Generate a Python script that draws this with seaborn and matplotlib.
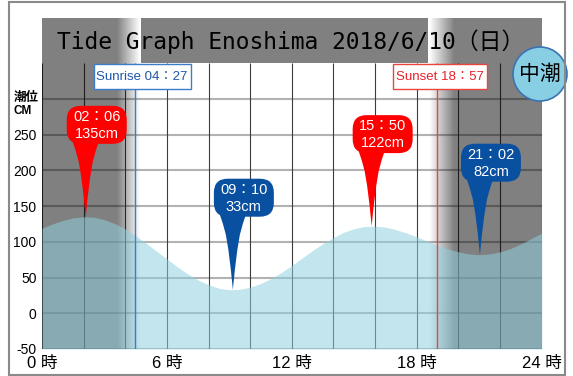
import numpy as np
import matplotlib
matplotlib.use("Agg")
import matplotlib.pyplot as plt
import matplotlib.patches as mpatches
import matplotlib.transforms as mtransforms
import seaborn as sns

# tide level (cm) read every half hour
hours = [0, 0.5, 1, 1.5, 2, 2.5, 3, 3.5, 4, 4.5, 5, 5.5, 6, 6.5, 7, 7.5, 8, 8.5,
         9, 9.5, 10, 10.5, 11, 11.5, 12, 12.5, 13, 13.5, 14, 14.5, 15, 15.5, 16,
         16.5, 17, 17.5, 18, 18.5, 19, 19.5, 20, 20.5, 21, 21.5, 22, 22.5, 23,
         23.5, 24]
level = [119, 125, 130, 133.5, 135, 134.5, 131, 125.5, 118, 108.5, 98, 87, 76,
         65, 55, 46.5, 40, 35, 33, 33.5, 36.5, 41.5, 48.5, 57, 67, 77.5, 88,
         97.5, 106, 113.5, 118.5, 121.5, 122, 120.5, 117, 112.5, 107, 101, 95.5,
         90, 86, 83, 82, 83, 86, 90.5, 97, 104.5, 112]

# high / low tides
tide_times = [2.1, 9.1667, 15.8333, 21.0333]
tide_levels = [135, 33, 122, 82]
tide_labels = ["02：06", "09：10", "15：50", "21：02"]
tide_kind = ["high", "low", "high", "low"]

sunrise = 4.45
sunset = 18.95
sunrise_label = "Sunrise 04：27"
sunset_label = "Sunset 18：57"
tide_name = "中潮"
title = "Tide Graph Enoshima 2018/6/10（日）"

y_ticks = [-50, 0, 50, 100, 150, 200, 250]
x_ticks = [0, 6, 12, 18, 24]
x_labels = ["0 時", "6 時", "12 時", "18 時", "24 時"]

sns.set_theme(style="white")
plt.rcParams['font.family'] = ['Liberation Sans', 'Noto Sans CJK JP', 'DejaVu Sans']
plt.rcParams['text.color'] = 'black'
plt.rcParams['xtick.color'] = 'black'
plt.rcParams['ytick.color'] = 'black'

W, H = 573, 376
fig = plt.figure(figsize=(W / 100, H / 100), dpi=100)
px = mtransforms.Affine2D().scale(0.01) + fig.dpi_scale_trans
ax = fig.add_axes([42 / W, 27 / H, 499.7 / W, 331.5 / H])

water = '#90d1e0'
grid_top = 350
ymax = 414

# grid
ax.hlines(range(-50, 301, 50), 0, 24, color='#b2b2b2', lw=1.5, zorder=1)
ax.vlines(range(0, 25, 2), -50, grid_top, color='#3c3c3c', lw=0.8, zorder=1)

# night shading with soft edges
xs = np.linspace(0, 24, 961)
alpha = np.interp(xs, [0, sunrise - 0.85, sunrise + 0.25, sunset - 0.35, sunset + 0.85, 24],
                  [0.5, 0.5, 0, 0, 0.5, 0.5])
img = np.zeros((1, len(xs), 4))
img[..., 3] = alpha
ax.imshow(img, extent=(0, 24, -50, ymax), aspect='auto', interpolation='bilinear', zorder=2)

# header band
ax.add_patch(mpatches.Rectangle((sunrise + 0.3, grid_top), (sunset - 0.4) - (sunrise + 0.3),
                                ymax - grid_top, color='#808080', lw=0, zorder=2.5))

# water
sns.lineplot(x=hours, y=level, ax=ax, color=water, lw=0, zorder=3)
ax.fill_between(hours, -50, level, color=water, alpha=0.54, lw=0, zorder=3)

# sunrise / sunset lines and labels
for t, lab, lc, tc, x0, w in [(sunrise, sunrise_label, '#3d7cc9', '#1f56a8', -41, 97),
                              (sunset, sunset_label, '#e8463c', '#e8202a', -44, 94)]:
    ax.vlines(t, -50, grid_top, color=lc, lw=1, zorder=4)
    tr = px + mtransforms.ScaledTranslation(t, grid_top, ax.transData)
    ax.add_patch(mpatches.Rectangle((x0, -26), w, 25, transform=tr, fc='white', ec=lc,
                                    lw=1, zorder=5))
    ax.text(x0 + w / 2, -13.5, lab, transform=tr, ha='center', va='center', color=tc,
            fontsize=9.5, zorder=6)

# tide pins
tail = [(0, 0), (-2, 20), (-4.5, 40), (-7, 55), (-10, 66), (-14, 78),
        (14, 78), (10, 66), (7, 55), (4.5, 40), (2, 20)]
for t, v, lab, kind in zip(tide_times, tide_levels, tide_labels, tide_kind):
    c = '#ff0000' if kind == 'high' else '#0a50a0'
    tr = px + mtransforms.ScaledTranslation(t, v, ax.transData)
    ax.add_patch(mpatches.Polygon(tail, closed=True, transform=tr, fc=c, ec='none', zorder=6))
    ax.add_patch(mpatches.FancyBboxPatch((-19, 73), 60, 38,
                                         boxstyle='round,pad=0,rounding_size=14',
                                         transform=tr, fc=c, ec='none', zorder=6))
    ax.text(11, 100, lab, transform=tr, ha='center', va='center', color='white',
            fontsize=10.5, zorder=7)
    ax.text(11, 83, f"{v}cm", transform=tr, ha='center', va='center', color='white',
            fontsize=10.5, zorder=7)

ax.set_xlim(0, 24)
ax.set_ylim(-50, ymax)
ax.set_yticks(y_ticks)
ax.set_yticklabels([str(y) for y in y_ticks], fontsize=10)
ax.set_xticks(x_ticks)
ax.set_xticklabels(x_labels, fontsize=12)
ax.tick_params(axis='y', length=0, pad=4)
ax.tick_params(axis='x', length=0, pad=5)
for s in ax.spines.values():
    s.set_visible(False)
ax.grid(False)

# title and decorations
fig.text(291, H - 42, title, transform=px, ha='center', va='center', fontsize=16.5,
         family=['DejaVu Sans Mono', 'Noto Sans CJK JP'], color='black', zorder=8)
fig.text(14, H - 97, "潮位", transform=px, ha='left', va='center', fontsize=9,
         family=['Noto Sans CJK JP'], weight='bold')
fig.text(14, H - 111, "CM", transform=px, ha='left', va='center', fontsize=8.5,
         weight='bold')
fig.add_artist(mpatches.Circle((540, H - 74), 27, transform=px, fc='#88cfe4',
                               ec='#3a73b5', lw=1.2, zorder=10))
fig.text(540, H - 74, tide_name, transform=px, ha='center', va='center', fontsize=15,
         family=['Noto Sans CJK JP'], zorder=11)
fig.add_artist(mpatches.Rectangle((9, 1), 556, 373, transform=px, fill=False,
                                  ec='#8a8a8a', lw=1.5, zorder=12))

fig.savefig('out.png', dpi=100)
